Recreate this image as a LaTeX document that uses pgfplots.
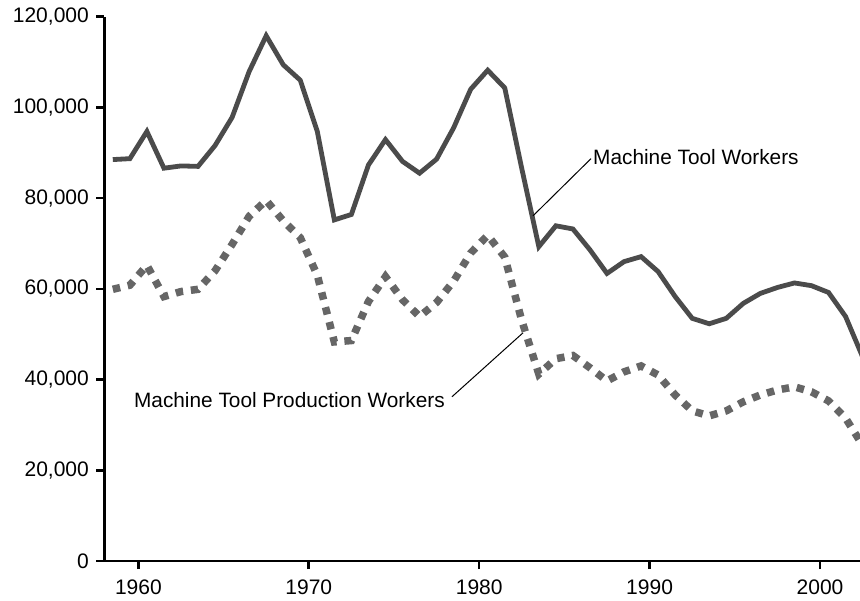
\documentclass[border=0pt]{standalone}
\usepackage{fontspec}
\setmainfont{Liberation Sans}
\usepackage{pgfplots}
\usepackage{pgfplotstable}
\pgfplotsset{compat=1.18}
\definecolor{solidc}{HTML}{4B4B4B}
\definecolor{dotc}{HTML}{666666}

\pgfplotstableread{
year workers
1958.5 88500
1959.5 88700
1960.5 94700
1961.5 86600
1962.5 87100
1963.5 87000
1964.5 91600
1965.5 97800
1966.5 107900
1967.5 115800
1968.5 109400
1969.5 106000
1970.5 94700
1971.5 75200
1972.5 76400
1973.5 87300
1974.5 92900
1975.5 88100
1976.5 85500
1977.5 88600
1978.5 95500
1979.5 104000
1980.5 108200
1981.5 104300
1982.5 86500
1983.5 69300
1984.5 73900
1985.5 73200
1986.5 68600
1987.5 63400
1988.5 66000
1989.5 67100
1990.5 63800
1991.5 58300
1992.5 53500
1993.5 52300
1994.5 53500
1995.5 56800
1996.5 59000
1997.5 60300
1998.5 61300
1999.5 60700
2000.5 59200
2001.5 53900
2002.5 45000
}\workerstable

\pgfplotstableread{
year prodw
1958.5 59900
1959.5 60800
1960.5 65200
1961.5 58300
1962.5 59400
1963.5 59900
1964.5 64000
1965.5 69800
1966.5 76000
1967.5 79500
1968.5 75000
1969.5 71300
1970.5 63000
1971.5 48300
1972.5 48600
1973.5 57200
1974.5 62700
1975.5 57600
1976.5 53900
1977.5 57000
1978.5 61700
1979.5 67900
1980.5 71800
1981.5 67000
1982.5 53000
1983.5 41200
1984.5 44600
1985.5 45300
1986.5 42600
1987.5 39700
1988.5 41700
1989.5 43000
1990.5 41000
1991.5 36600
1992.5 33100
1993.5 32000
1994.5 33100
1995.5 35100
1996.5 36600
1997.5 37700
1998.5 38400
1999.5 37300
2000.5 35300
2001.5 31500
2002.5 25500
}\prodtable

\begin{document}
\begin{tikzpicture}
\begin{axis}[
  at={(0bp,0bp)}, anchor=south west,
  scale only axis,
  width=756.6bp, height=544.3bp,
  xmin=1958, xmax=2002.4,
  ymin=0, ymax=120000,
  axis lines*=left,
  axis line style={line width=2.6bp, black},
  tick style={line width=2.6bp, black},
  major tick length=8bp,
  tick align=outside,
  xtick={1960,1970,1980,1990,2000},
  xticklabels={1960,1970,1980,1990,2000},
  ytick={0,20000,40000,60000,80000,100000,120000},
  yticklabels={0,{20,000},{40,000},{60,000},{80,000},{100,000},{120,000}},
  scaled y ticks=false,
  yticklabel style={inner sep=0pt, anchor=east, xshift=-7.3bp},
  xticklabel style={inner sep=0pt, anchor=north, yshift=-11bp},
  tick label style={font=\fontsize{21bp}{24bp}\selectfont},
  clip=true,
]
\addplot[solidc, line width=4.8bp, line join=miter] table[x=year, y=workers] {\workerstable};
\addplot[dotc, line width=7.5bp, dash pattern=on 7.5bp off 7.8bp, line cap=butt] table[x=year, y=prodw] {\prodtable};

\draw[black, line width=1bp] (axis cs:1983.16,76100) -- (axis cs:1986.56,88700);
\node[anchor=west, inner sep=0pt, font=\fontsize{20.8bp}{24bp}\selectfont] at (axis cs:1986.68,89100) {Machine Tool Workers};
\draw[black, line width=1bp] (axis cs:1978.40,36200) -- (axis cs:1982.57,50300);
\node[anchor=east, inner sep=0pt, font=\fontsize{20.8bp}{24bp}\selectfont] at (axis cs:1977.99,35500) {Machine Tool Production Workers};
\end{axis}
\pgfresetboundingbox
\path[use as bounding box] (-104.3bp,-39.5bp) rectangle (755.7bp,561bp);
\end{tikzpicture}
\end{document}
